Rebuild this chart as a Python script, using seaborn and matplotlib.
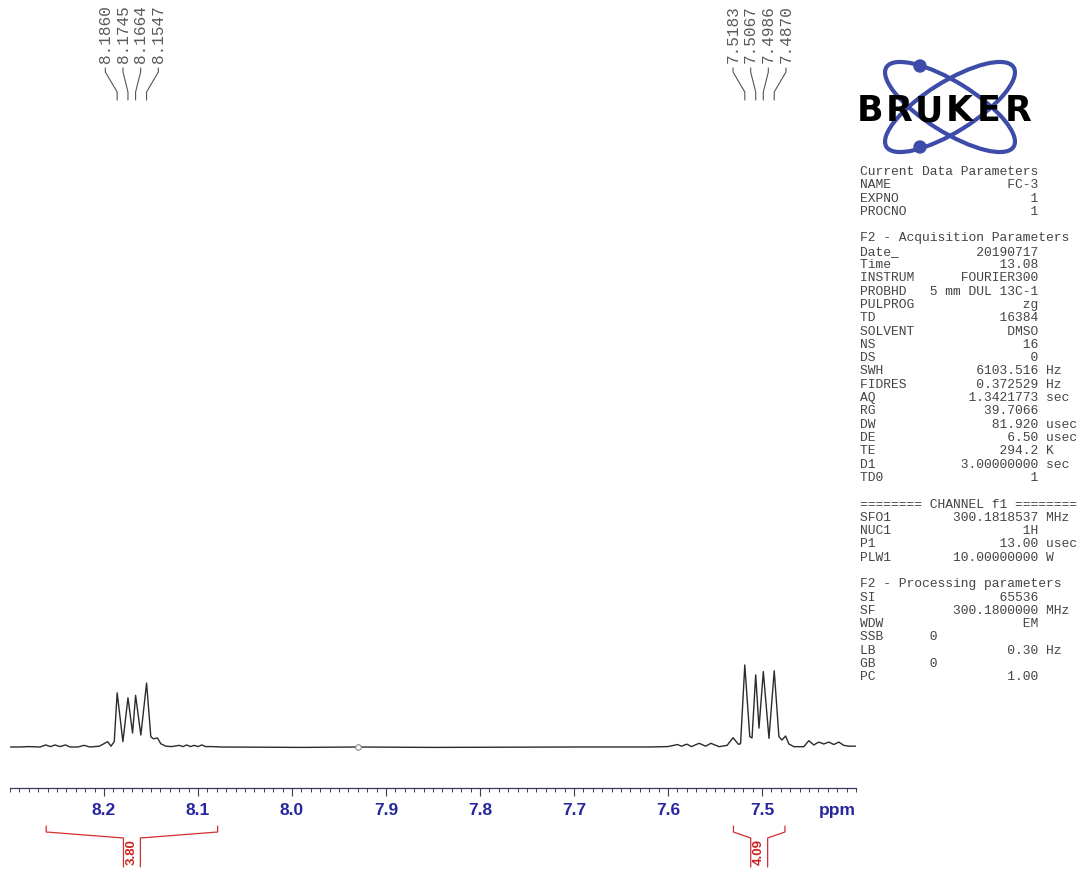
import numpy as np
import pandas as pd
import matplotlib
matplotlib.use("Agg")
import matplotlib.pyplot as plt
import matplotlib.transforms as mtransforms
from matplotlib.patches import Ellipse, Circle
from matplotlib.ticker import MultipleLocator
import seaborn as sns

# ── data ───────────────────────────────────────────────────
spec_ppm = [
    8.2995, 8.290, 8.280, 8.268, 8.262, 8.257, 8.252, 8.247, 8.241, 8.236,
    8.228, 8.221, 8.215, 8.205, 8.1961, 8.1926, 8.1891, 8.1860, 8.1799, 8.1745,
    8.1696, 8.1664, 8.1608, 8.1547, 8.1502, 8.1475, 8.1431, 8.1396, 8.1343, 8.128,
    8.120, 8.116, 8.112, 8.108, 8.104, 8.100, 8.096, 8.092, 8.085, 8.075,
    7.990, 7.930, 7.850, 7.700, 7.620, 7.600, 7.590, 7.5855, 7.580, 7.575,
    7.570, 7.5668, 7.5600, 7.5544, 7.5456, 7.5371, 7.5308, 7.5251, 7.5228, 7.5183,
    7.5130, 7.5106, 7.5067, 7.5032, 7.4986, 7.4926, 7.4870, 7.4820, 7.4788, 7.4749,
    7.4714, 7.4661, 7.4555, 7.4502, 7.4449, 7.4396, 7.4343, 7.4289, 7.4236, 7.4183,
    7.4130, 7.4077, 7.4005,
]
spec_int = [
    0.00, 0.00, 0.005, 0.00, 0.025, 0.005, 0.025, 0.005, 0.025, 0.00,
    0.00, 0.02, 0.00, 0.01, 0.065, 0.01, 0.065, 0.66, 0.065, 0.60,
    0.17, 0.63, 0.146, 0.78, 0.126, 0.10, 0.11, 0.04, 0.01, 0.005,
    0.02, 0.005, 0.025, 0.005, 0.02, 0.005, 0.025, 0.005, 0.005, 0.00,
    -0.005, 0.00, -0.005, 0.00, 0.00, 0.005, 0.03, 0.01, 0.035, 0.005,
    0.03, 0.045, 0.01, 0.045, 0.004, 0.02, 0.113, 0.033, 0.04, 1.00,
    0.126, 0.11, 0.88, 0.23, 0.92, 0.106, 0.93, 0.126, 0.085, 0.134,
    0.037, 0.004, 0.004, 0.077, 0.025, 0.06, 0.037, 0.06, 0.03, 0.06,
    0.02, 0.01, 0.01,
]

marker_ppm = [7.9296]
marker_int = [0.0]

peak_groups = [
    [8.1860, 8.1745, 8.1664, 8.1547],
    [7.5183, 7.5067, 7.4986, 7.4870],
]

integral_ranges = [(8.2615, 8.0791), (7.5304, 7.4756)]
integral_values = ["3.80", "4.09"]

major_ticks = [8.2, 8.1, 8.0, 7.9, 7.8, 7.7, 7.6, 7.5]
major_labels = ["8.2", "8.1", "8.0", "7.9", "7.8", "7.7", "7.6", "7.5"]

param_names = [
    "Current Data Parameters", "NAME", "EXPNO", "PROCNO", "",
    "F2 - Acquisition Parameters", "Date_", "Time", "INSTRUM", "PROBHD",
    "PULPROG", "TD", "SOLVENT", "NS", "DS", "SWH", "FIDRES", "AQ", "RG",
    "DW", "DE", "TE", "D1", "TD0", "",
    "======== CHANNEL f1 ========", "SFO1", "NUC1", "P1", "PLW1", "",
    "F2 - Processing parameters", "SI", "SF", "WDW", "SSB", "LB", "GB", "PC",
]
param_values = [
    "", "FC-3", "1", "1", "",
    "", "20190717", "13.08", "FOURIER300", "5 mm DUL 13C-1",
    "zg", "16384", "DMSO", "16", "0", "6103.516", "0.372529", "1.3421773", "39.7066",
    "81.920", "6.50", "294.2", "3.00000000", "1", "",
    "", "300.1818537", "1H", "13.00", "10.00000000", "",
    "", "65536", "300.1800000", "EM", "0", "0.30", "0", "1.00",
]
param_units = [
    "", "", "", "", "",
    "", "", "", "", "",
    "", "", "", "", "", "Hz", "Hz", "sec", "",
    "usec", "usec", "K", "sec", "", "",
    "", "MHz", "", "usec", "W", "",
    "", "", "MHz", "", "", "Hz", "", "",
]
left_aligned_values = {"SSB", "GB"}

# ── figure setup ───────────────────────────────────────────
sns.set_style("white")
plt.rcParams["font.family"] = ["DejaVu Sans"]

W, H = 1089, 875
fig = plt.figure(figsize=(W / 100, H / 100), dpi=100)
fig.patch.set_facecolor("white")

# pixel coordinates measured from the top-left of the figure
px = mtransforms.Affine2D().scale(1 / 100, -1 / 100).translate(0, H / 100) + fig.dpi_scale_trans

ax = fig.add_axes([10 / W, (H - 788) / H, 846 / W, 788 / H])
ax.set_facecolor("white")

df = pd.DataFrame({"ppm": spec_ppm, "intensity": spec_int})
sns.lineplot(data=df, x="ppm", y="intensity", ax=ax, color="#2b2b2b",
             lw=1.0, sort=False, estimator=None)
ax.plot(marker_ppm, marker_int, "o", ms=4, mfc="white", mec="#8a8a8a", mew=0.8)

ax.set_xlim(8.30, 7.40)
ax.set_ylim(-0.5, 747 / 82)
ax.set_xlabel("")
ax.set_ylabel("")
ax.set_yticks([])
for s in ["top", "left", "right"]:
    ax.spines[s].set_visible(False)
ax.spines["bottom"].set_color("#3a3a5c")
ax.spines["bottom"].set_linewidth(0.9)

ax.set_xticks(major_ticks)
ax.set_xticklabels(major_labels)
ax.xaxis.set_minor_locator(MultipleLocator(0.01))
ax.tick_params(axis="x", which="both", bottom=True, top=False)
ax.tick_params(axis="x", which="major", direction="out", length=5.8, width=0.8,
               color="#3a3a5c", pad=4.8, labelsize=12.5, labelcolor="#2626a0")
ax.tick_params(axis="x", which="minor", direction="out", length=2.9, width=0.7,
               color="#3a3a5c")
for lab in ax.get_xticklabels():
    lab.set_fontfamily("Liberation Sans")
    lab.set_fontweight("bold")

ax_px = mtransforms.blended_transform_factory(ax.transAxes, px)
ax.text(1.0, 811, "ppm", transform=ax_px, ha="right", va="center",
        fontsize=12.5, fontweight="bold", family="Liberation Sans", color="#2626a0")

# ── peak labels with leader lines ──────────────────────────
dx = mtransforms.blended_transform_factory(ax.transData, px)
label_step = 17.7 / 943  # ppm between neighbouring labels
for group in peak_groups:
    centre = np.mean(group)
    for i, p in enumerate(group):
        lx = centre - (i - 1.5) * label_step
        ax.text(lx, 63, f"{p:.4f}", transform=dx, rotation=90, ha="center",
                va="bottom", fontsize=11.6, family="Liberation Mono",
                color="#5a5a5a", clip_on=False)
        ax.plot([lx, lx, p, p], [68, 72, 92, 100], transform=dx,
                color="#555555", lw=0.8, clip_on=False)

# ── integrals ──────────────────────────────────────────────
gap = 0.009
for (a, b), val in zip(integral_ranges, integral_values):
    mid = (a + b) / 2
    ax.plot([a, a, mid + gap, mid + gap], [826, 832, 838, 867], transform=dx,
            color="#d03030", lw=0.9, clip_on=False)
    ax.plot([b, b, mid - gap, mid - gap], [826, 832, 838, 867], transform=dx,
            color="#d03030", lw=0.9, clip_on=False)
    ax.text(mid, 852, val, transform=dx, rotation=90, ha="center", va="center",
            fontsize=9.5, fontweight="bold", family="Liberation Sans",
            color="#d02020", clip_on=False)

# ── Bruker logo ────────────────────────────────────────────
lx0, ly0, lw_, lh_ = 852, 55, 195, 105
logo = fig.add_axes([lx0 / W, (H - ly0 - lh_) / H, lw_ / W, lh_ / H])
logo.set_xlim(lx0, lx0 + lw_)
logo.set_ylim(ly0 + lh_, ly0)
logo.axis("off")
blue = "#3d4ca8"
for ang in (32, -32):
    logo.add_patch(Ellipse((950, 107), 150, 50, angle=ang, fill=False,
                           ec=blue, lw=3.0, zorder=1))
logo.add_patch(Circle((920, 66), 6, color=blue, zorder=3))
logo.add_patch(Circle((920, 147), 6, color=blue, zorder=3))
for k, ch in enumerate("BRUKER"):
    logo.text(870 + k * 29.6, 111, ch, ha="center", va="center", fontsize=25,
              fontweight="bold", family="DejaVu Sans", color="black", zorder=2)

# ── parameter block ────────────────────────────────────────
for row, (name, val, unit) in enumerate(zip(param_names, param_values, param_units)):
    if not name:
        continue
    if not val:
        line = name
    elif name in left_aligned_values:
        line = f"{name:<9}{val}"
    else:
        line = f"{name:<8}{val:>15}"
        if unit:
            line += " " + unit
    fig.text(860, 172 + 13.3 * row, line, transform=px, ha="left", va="center",
             fontsize=9.4, family="Liberation Mono", color="#454545")

fig.savefig("out.png", dpi=100, facecolor="white")
